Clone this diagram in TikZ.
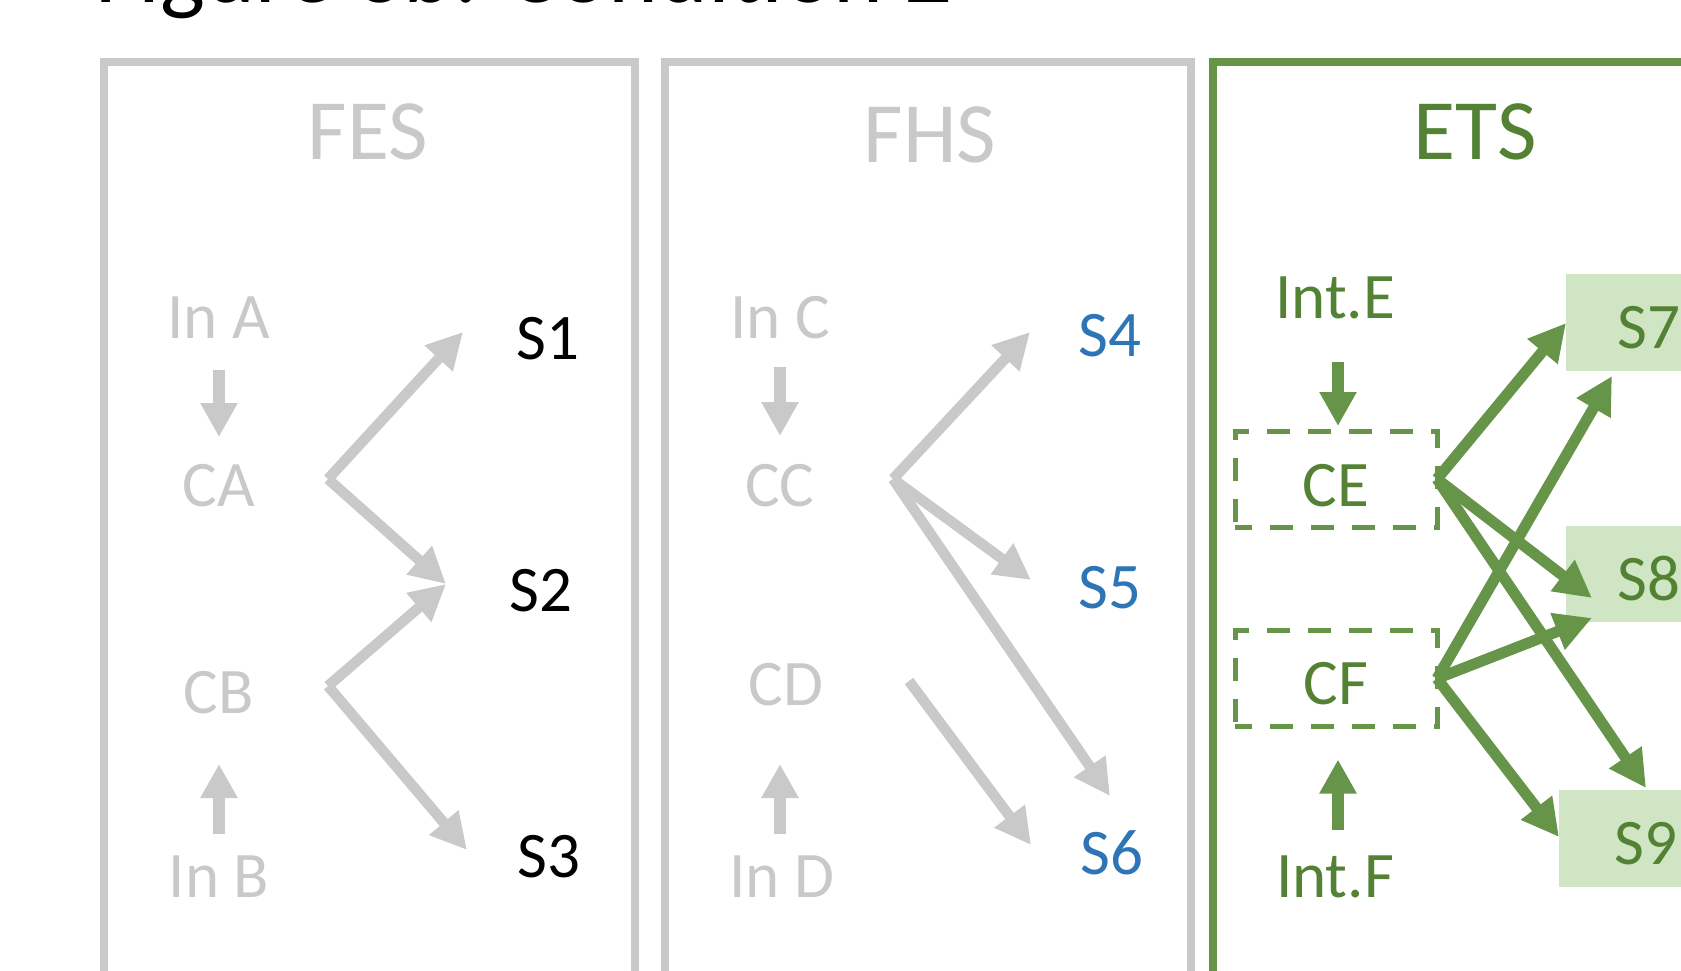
\documentclass[tikz,border=0pt]{standalone}
\usepackage{fontspec}
\setmainfont{Carlito}
\usetikzlibrary{arrows.meta,calc}
\definecolor{panelgray}{HTML}{C9C9C9}
\definecolor{linegreen}{HTML}{66954A}
\definecolor{textgreen}{HTML}{548235}
\definecolor{boxgreen}{HTML}{CFE5C3}
\definecolor{sblue}{HTML}{2E75B6}
\begin{document}
\begin{tikzpicture}[x=1pt,y=-1pt,
  lbl/.style={font=\fontsize{65}{65}\selectfont, inner sep=0pt, anchor=base},
  heading/.style={font=\fontsize{86}{86}\selectfont, inner sep=0pt, anchor=base},
  panel/.style={line width=8pt},
  grayarrow/.style={draw=panelgray, line width=10.5pt, -{Triangle[length=36pt,width=36pt]}},
  greenarrow/.style={draw=linegreen, line width=11pt, -{Triangle[length=37pt,width=37pt]}},
  grayblock/.style={draw=panelgray, line width=12pt, -{Triangle[length=34pt,width=35pt]}},
  greenblock/.style={draw=linegreen, line width=12pt, -{Triangle[length=34pt,width=35pt]}},
  dashbox/.style={draw=linegreen, line width=5pt, dash pattern=on 23pt off 18pt, dash phase=6pt,
    minimum width=202pt, minimum height=96pt, inner sep=0pt, outer sep=0pt, text=textgreen,
    font=\fontsize{65}{65}\selectfont, text depth=0pt},
  sbox/.style={fill=boxgreen, inner sep=0pt, outer sep=0pt, text=textgreen,
    font=\fontsize{65}{65}\selectfont, text height=52pt, text depth=0pt, minimum height=97pt}
]
\clip (0,0) rectangle (1681,971);

% title line, mostly above the page
\node[anchor=base west, inner sep=0pt, font=\fontsize{95}{95}\selectfont] (title) at (95,3) {Figure 3b: Condition 2};

% the three panels
\draw[panel, panelgray] (104,62) rectangle (635,1010);
\draw[panel, panelgray] (665,62) rectangle (1191,1010);
\draw[panel, linegreen] (1213,62) rectangle (1760,1010);

\node[heading, text=panelgray] (fes) at (368,159) {FES};
\node[heading, text=panelgray] (fhs) at (930,162) {FHS};
\node[heading, text=textgreen] (ets) at (1475,159) {ETS};

% ---------- FES ----------
\node[lbl, text=panelgray] (InA) at (219,338) {In A};
\node[lbl, text=panelgray] (CA) at (219,506) {CA};
\node[lbl, text=panelgray] (CB) at (219,713) {CB};
\node[lbl, text=panelgray] (InB) at (219,897) {In B};
\node[lbl] (S1) at (548,359) {S1};
\node[lbl] (S2) at (541,611) {S2};
\node[lbl] (S3) at (549,877) {S3};

\draw[grayblock] ($(InA.base)+(0,32)$) -- ($(CA.base)+(0,-69)$);
\draw[grayblock] ($(InB.base)+(0,-63)$) -- ($(CB.base)+(0,51)$);

\coordinate (caout) at (328,479);
\coordinate (cbout) at (328,686);
\coordinate (s1tip) at (463,332);
\coordinate (s2tip) at (446,584);
\coordinate (s3tip) at (467,850);
\draw[grayarrow] (caout) -- (s1tip);
\draw[grayarrow] (caout) -- (s2tip);
\draw[grayarrow] (cbout) -- (s2tip);
\draw[grayarrow] (cbout) -- (s3tip);

% ---------- FHS ----------
\node[lbl, text=panelgray] (InC) at (780,338) {In C};
\node[lbl, text=panelgray] (CC) at (780,506) {CC};
\node[lbl, text=panelgray] (CD) at (786,705) {CD};
\node[lbl, text=panelgray] (InD) at (782,897) {In D};
\node[lbl, text=sblue] (S4) at (1110,356) {S4};
\node[lbl, text=sblue] (S5) at (1110,608) {S5};
\node[lbl, text=sblue] (S6) at (1112,874) {S6};

\draw[grayblock] ($(InC.base)+(0,29)$) -- ($(CC.base)+(0,-70)$);
\draw[grayblock] ($(InC.base |- InD.base)+(0,-63)$) -- ($(InC.base |- CD.base)+(0,59)$);

\coordinate (ccout) at (893,479);
\coordinate (cdout) at (909,681);
\coordinate (s4tip) at (1030,332);
\coordinate (s5tip) at (1031,580);
\coordinate (s6tipa) at (1110,796);
\coordinate (s6tipb) at (1031,845);
\draw[grayarrow] (ccout) -- (s4tip);
\draw[grayarrow] (ccout) -- (s5tip);
\draw[grayarrow] (ccout) -- (s6tipa);
\draw[grayarrow] (cdout) -- (s6tipb);

% ---------- ETS ----------
\node[lbl, text=textgreen] (IntE) at (1335,318) {Int.E};
\node[lbl, text=textgreen] (IntF) at (1335,897) {Int.F};
\node[dashbox, text height=54pt] (CE) at (1336,479) {CE};
\node[dashbox, text height=51pt] (CF) at (1336,678.5) {CF};

\node[sbox, minimum width=166pt] (S7) at (1649,322.5) {S7};
\node[sbox, minimum width=166pt, minimum height=96pt] (S8) at (1649,574) {S8};
\node[sbox, minimum width=174pt] (S9) at (1646,838.5) {S9};

\draw[greenblock] ($(CE.north)+(2,-69)$) -- ($(CE.north)+(2,-5)$);
\draw[greenblock] ($(CF.south)+(2,103)$) -- ($(CF.south)+(2,33)$);

\coordinate (s7tipa) at (1566,323);
\coordinate (s7tipb) at (1612,376);
\coordinate (s8tipa) at (1592,598);
\coordinate (s8tipb) at (1592,618);
\coordinate (s9tipa) at (1646,788);
\coordinate (s9tipb) at (1559,837);
\draw[greenarrow] (CE.east) -- (s7tipa);
\draw[greenarrow] (CE.east) -- (s8tipa);
\draw[greenarrow] (CE.east) -- (s9tipa);
\draw[greenarrow] (CF.east) -- (s7tipb);
\draw[greenarrow] (CF.east) -- (s8tipb);
\draw[greenarrow] (CF.east) -- (s9tipb);
\end{tikzpicture}
\end{document}
